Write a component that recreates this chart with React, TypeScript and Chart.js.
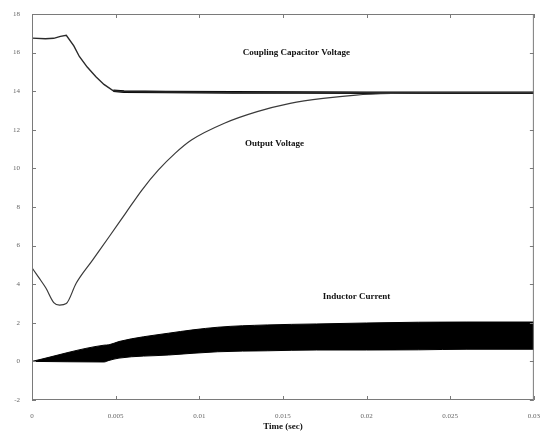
import React, { useEffect, useRef } from "react";
import { Chart, registerables } from "chart.js";

Chart.register(...registerables);

// Coupling capacitor voltage (V)
const couplingTime = [0, 0.0008, 0.0013, 0.0017, 0.00205, 0.0025, 0.00283, 0.0033, 0.00382, 0.0043, 0.00486, 0.0055, 0.008, 0.012, 0.016, 0.02, 0.025, 0.03];
const couplingVoltage = [16.75, 16.72, 16.74, 16.84, 16.9, 16.35, 15.8, 15.25, 14.75, 14.35, 14.02, 13.98, 13.96, 13.94, 13.93, 13.92, 13.92, 13.92];
const couplingSteadyFrom = 10; // index where the ripple (thick trace) starts

// Output voltage (V)
const outputTime = [0, 0.0004, 0.00083, 0.0013, 0.00165, 0.00205, 0.00264, 0.00362, 0.00461, 0.00559, 0.00657, 0.00756, 0.00855, 0.00953, 0.0115, 0.01346, 0.01543, 0.0174, 0.01937, 0.0215, 0.025, 0.03];
const outputVoltage = [4.85, 4.35, 3.8, 3.05, 2.92, 3.0, 4.05, 5.25, 6.46, 7.67, 8.88, 9.92, 10.78, 11.47, 12.34, 12.94, 13.37, 13.63, 13.8, 13.88, 13.92, 13.92];

// Inductor current envelope (A)
const inductorTime = [0, 0.0043, 0.0046, 0.0052, 0.00815, 0.0111, 0.01406, 0.017, 0.02, 0.0231, 0.026, 0.03];
const inductorUpper = [0, 0.84, 0.86, 1.03, 1.46, 1.77, 1.89, 1.94, 1.99, 2.03, 2.04, 2.04];
const inductorLower = [0, -0.03, 0.05, 0.17, 0.33, 0.5, 0.55, 0.59, 0.59, 0.6, 0.63, 0.63];

// Axis ticks
const xTicks = [0, 0.005, 0.01, 0.015, 0.02, 0.025, 0.03];
const yTicks = [-2, 0, 2, 4, 6, 8, 10, 12, 14, 16, 18];

// In-plot labels
const labelTexts = ["Coupling Capacitor Voltage", "Output Voltage", "Inductor Current"];
const labelTimes = [0.0158, 0.0145, 0.0194];
const labelValues = [16.0, 11.3, 3.35];

const toXY = (xs: number[], ys: number[]) => xs.map((x, i) => ({ x, y: ys[i] }));

const framePlugin = {
  id: "frameTicks",
  afterDatasetsDraw(chart: any) {
    const { ctx, chartArea } = chart;
    const xs = chart.scales.x;
    const ys = chart.scales.y;
    ctx.save();
    ctx.strokeStyle = "#7a7a7a";
    ctx.lineWidth = 1;
    ctx.strokeRect(chartArea.left + 0.5, chartArea.top + 0.5, chartArea.right - chartArea.left - 1, chartArea.bottom - chartArea.top - 1);
    const L = 4;
    ctx.beginPath();
    xTicks.forEach((t) => {
      const px = Math.round(xs.getPixelForValue(t)) + 0.5;
      ctx.moveTo(px, chartArea.bottom);
      ctx.lineTo(px, chartArea.bottom - L);
      ctx.moveTo(px, chartArea.top);
      ctx.lineTo(px, chartArea.top + L);
    });
    yTicks.forEach((v) => {
      const py = Math.round(ys.getPixelForValue(v)) + 0.5;
      ctx.moveTo(chartArea.left, py);
      ctx.lineTo(chartArea.left + L, py);
      ctx.moveTo(chartArea.right, py);
      ctx.lineTo(chartArea.right - L, py);
    });
    ctx.stroke();

    ctx.fillStyle = "#111";
    ctx.font = "bold 9px 'Liberation Serif', 'DejaVu Serif', serif";
    ctx.textAlign = "center";
    ctx.textBaseline = "middle";
    labelTexts.forEach((txt, i) => {
      ctx.fillText(txt, xs.getPixelForValue(labelTimes[i]), ys.getPixelForValue(labelValues[i]));
    });
    ctx.restore();
  },
};

export default function App() {
  const ref = useRef<HTMLCanvasElement | null>(null);
  useEffect(() => {
    if (!ref.current) return;
    const chart = new Chart(ref.current, {
      type: "line",
      data: {
        datasets: [
          {
            label: "Inductor Current (upper)",
            data: toXY(inductorTime, inductorUpper),
            borderColor: "#000",
            backgroundColor: "#000",
            borderWidth: 1,
            pointRadius: 0,
            fill: "+1",
            cubicInterpolationMode: "monotone",
          },
          {
            label: "Inductor Current (lower)",
            data: toXY(inductorTime, inductorLower),
            borderColor: "#000",
            backgroundColor: "#000",
            borderWidth: 1,
            pointRadius: 0,
            fill: false,
            cubicInterpolationMode: "monotone",
          },
          {
            label: "Output Voltage",
            data: toXY(outputTime, outputVoltage),
            borderColor: "#3a3a3a",
            borderWidth: 1.2,
            pointRadius: 0,
            fill: false,
            cubicInterpolationMode: "monotone",
          },
          {
            label: "Coupling Capacitor Voltage",
            data: toXY(couplingTime, couplingVoltage),
            borderColor: "#2a2a2a",
            borderWidth: 1.4,
            pointRadius: 0,
            fill: false,
            tension: 0,
          },
          {
            label: "Coupling Capacitor Voltage (ripple)",
            data: toXY(couplingTime.slice(couplingSteadyFrom), couplingVoltage.slice(couplingSteadyFrom)),
            borderColor: "#000",
            borderWidth: 2.6,
            pointRadius: 0,
            fill: false,
            tension: 0,
          },
        ],
      },
      options: {
        animation: false,
        responsive: false,
        devicePixelRatio: 1,
        layout: { padding: { top: 14, right: 4, left: 0, bottom: 0 } },
        plugins: { legend: { display: false }, tooltip: { enabled: false } },
        scales: {
          x: {
            type: "linear",
            min: 0,
            max: 0.03,
            grid: { display: false },
            border: { display: false },
            afterBuildTicks: (s: any) => {
              s.ticks = xTicks.map((v) => ({ value: v }));
            },
            afterFit: (s: any) => {
              s.height = 34;
            },
            ticks: {
              padding: 4,
              maxRotation: 0,
              autoSkip: false,
              color: "#666",
              font: { size: 7, family: "'Liberation Serif', serif" },
              callback: (v: any) => (v === 0 ? "0" : String(Number(Number(v).toFixed(4)))),
            },
            title: {
              display: true,
              text: "Time (sec)",
              color: "#111",
              padding: { top: 0, bottom: 2 },
              font: { size: 9, weight: "bold", family: "'Liberation Serif', serif" },
            },
          },
          y: {
            type: "linear",
            min: -2,
            max: 18,
            grid: { display: false },
            border: { display: false },
            afterBuildTicks: (s: any) => {
              s.ticks = yTicks.map((v) => ({ value: v }));
            },
            afterFit: (s: any) => {
              s.width = 32;
            },
            ticks: {
              padding: 4,
              autoSkip: false,
              color: "#666",
              font: { size: 7, family: "'Liberation Serif', serif" },
            },
          },
        },
      },
      plugins: [framePlugin],
    });
    return () => chart.destroy();
  }, []);
  return (
    <div style={{ position: "fixed", left: 0, top: 0, width: 544, height: 434, background: "#fff" }}>
      <canvas ref={ref} width={544} height={434} />
    </div>
  );
}
